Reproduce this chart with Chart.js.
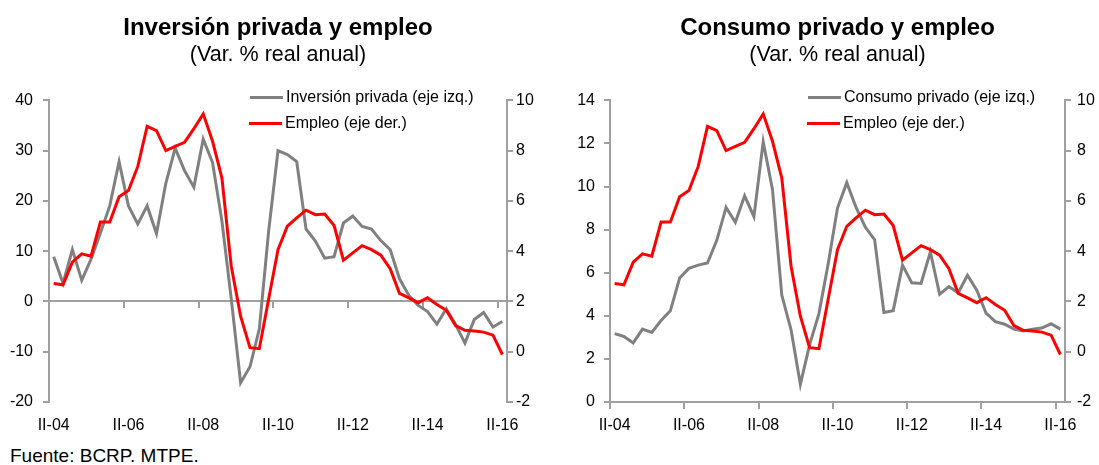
<!DOCTYPE html>
<html><head><meta charset="utf-8">
<script src="https://cdn.jsdelivr.net/npm/chart.js@4.4.1/dist/chart.umd.min.js"></script>
<style>
body{margin:0;background:#fff;width:1099px;height:465px;position:relative;overflow:hidden;font-family:'Liberation Sans',Arial,sans-serif;color:#000;}
canvas{position:absolute;top:0;}
#c1{left:0}
#c2{left:550px}
.leg{position:absolute;font-size:16px;white-space:nowrap;line-height:18px;height:18px;}
.leg .l{position:absolute;left:0;top:7.5px;width:33px;height:3px;}
.leg .t{position:absolute;left:36px;top:0;}
#src{position:absolute;left:10px;top:446px;font-size:19px;line-height:19px;white-space:nowrap;}
</style></head><body>
<canvas id="c1" width="550" height="440"></canvas>
<canvas id="c2" width="549" height="440"></canvas>

<div class="leg" style="left:250px;top:88px"><span class="l" style="background:#808080"></span><span class="t">Inversión privada (eje izq.)</span></div>
<div class="leg" style="left:249px;top:114px"><span class="l" style="background:#ff0000"></span><span class="t">Empleo (eje der.)</span></div>
<div class="leg" style="left:808px;top:88px"><span class="l" style="background:#808080"></span><span class="t">Consumo privado (eje izq.)</span></div>
<div class="leg" style="left:807px;top:114px"><span class="l" style="background:#ff0000"></span><span class="t">Empleo (eje der.)</span></div>
<div id="src">Fuente: BCRP. MTPE.</div>

<script>
// Quarterly categories II-04 ... II-16
const quarters = [
  "II-04","III-04","IV-04",
  "I-05","II-05","III-05","IV-05",
  "I-06","II-06","III-06","IV-06",
  "I-07","II-07","III-07","IV-07",
  "I-08","II-08","III-08","IV-08",
  "I-09","II-09","III-09","IV-09",
  "I-10","II-10","III-10","IV-10",
  "I-11","II-11","III-11","IV-11",
  "I-12","II-12","III-12","IV-12",
  "I-13","II-13","III-13","IV-13",
  "I-14","II-14","III-14","IV-14",
  "I-15","II-15","III-15","IV-15",
  "I-16","II-16"
];

// Employment (right axis), % change
const empleo = [2.71, 2.66, 3.56, 3.89, 3.80, 5.16, 5.16, 6.16, 6.41, 7.37,
  8.96, 8.79, 8.00, 8.17, 8.33, 8.87, 9.46, 8.37, 6.91, 3.40,
  1.41, 0.16, 0.12, 2.10, 4.06, 4.99, 5.32, 5.63, 5.45, 5.48,
  5.02, 3.64, 3.93, 4.22, 4.06, 3.84, 3.30, 2.32, 2.14, 1.95,
  2.15, 1.88, 1.65, 1.04, 0.85, 0.82, 0.78, 0.66, -0.11];

// Private investment (left axis, left chart)
const inversion = [8.9, 3.6, 10.3, 4.2, 8.4, 13.6, 19.0, 27.8, 19.0, 15.4,
  19.0, 13.5, 23.5, 30.5, 26.0, 22.7, 32.3, 27.6, 16.0, 0.5,
  -16.2, -13.0, -5.5, 14.0, 30.0, 29.2, 27.8, 14.4, 12.0, 8.6,
  8.9, 15.6, 17.0, 14.9, 14.4, 12.1, 10.3, 4.5, 1.2, -0.8,
  -2.0, -4.5, -1.5, -4.6, -8.3, -3.6, -2.2, -5.1, -4.0];

// Private consumption (left axis, right chart)
const consumo = [3.17, 3.04, 2.74, 3.38, 3.23, 3.78, 4.23, 5.75, 6.2, 6.35,
  6.45, 7.5, 9.03, 8.34, 9.57, 8.6, 12.07, 9.85, 4.96, 3.35,
  0.82, 2.66, 4.1, 6.42, 9.0, 10.18, 9.03, 8.11, 7.53, 4.15,
  4.24, 6.35, 5.53, 5.5, 6.96, 5.0, 5.35, 5.07, 5.88, 5.19,
  4.12, 3.73, 3.61, 3.38, 3.3, 3.38, 3.43, 3.63, 3.38];

const invTicks = {min: -20, max: 40, step: 10};
const conTicks = {min: 0, max: 14, step: 2};
const empTicks = {min: -2, max: 10, step: 2};

Chart.defaults.font.family = "'Liberation Sans', Arial, sans-serif";
Chart.defaults.font.size = 16;
Chart.defaults.color = '#000';

const AXIS = '#a0a0a0';

function makeChart(id, cfg) {
  return new Chart(document.getElementById(id), {
    type: 'line',
    data: {
      labels: quarters,
      datasets: [
        {label: cfg.leftName, data: cfg.leftData, yAxisID: 'y', xAxisID: 'x',
         borderColor: '#808080', borderWidth: 3, pointRadius: 0, tension: 0, order: 1, fill: false},
        {label: 'Empleo (eje der.)', data: empleo, yAxisID: 'y1', xAxisID: 'x',
         borderColor: '#ff0000', borderWidth: 3, pointRadius: 0, tension: 0, order: 0, fill: false}
      ]
    },
    options: {
      responsive: false, animation: false, devicePixelRatio: 1,
      layout: {padding: 0},
      plugins: {
        legend: {display: false}, tooltip: {enabled: false},
        title: {display: true, text: cfg.title, fullSize: false, color: '#000',
                font: {size: 24, weight: 'bold'}, padding: {top: 13.5, bottom: 0}},
        subtitle: {display: true, text: '(Var. % real anual)', fullSize: false, color: '#000',
                font: {size: 21.5, weight: 'normal'}, padding: {top: 0, bottom: 32.2}}
      },
      scales: {
        x: {type: 'category', position: 'bottom', offset: true,
            grid: {display: false, offset: true}, border: {display: false},
            ticks: {autoSkip: false, maxRotation: 0, padding: 6,
                    callback: (v, i) => (i % 8 === 0 ? quarters[i] : '')},
            afterFit: s => { s.height = 38; }},
        x0: {type: 'category', position: {y: 0}, offset: true,
            grid: {offset: true, drawOnChartArea: false, drawTicks: true, tickLength: 6, lineWidth: 2,
                   color: c => (c.index !== undefined && c.index % 8 === 0 ? AXIS : 'rgba(0,0,0,0)')},
            border: {display: true, color: AXIS, width: 2},
            ticks: {display: false}},
        y: {position: 'left', min: cfg.yt.min, max: cfg.yt.max,
            ticks: {stepSize: cfg.yt.step, padding: cfg.lpad},
            grid: {drawOnChartArea: false, tickLength: 6, color: AXIS, lineWidth: 2},
            border: {display: true, color: AXIS, width: 2},
            afterFit: s => { s.width = cfg.lw; }},
        y1: {position: 'right', min: empTicks.min, max: empTicks.max,
            ticks: {stepSize: empTicks.step, padding: cfg.rpad},
            grid: {drawOnChartArea: false, tickLength: 6, color: AXIS, lineWidth: 2},
            border: {display: true, color: AXIS, width: 2},
            afterFit: s => { s.width = cfg.rw; }}
      }
    }
  });
}

makeChart('c1', {title: 'Inversión privada y empleo', leftName: 'Inversión privada (eje izq.)',
  leftData: inversion, yt: invTicks, lw: 49, rw: 43, lpad: 10, rpad: 3});
makeChart('c2', {title: 'Consumo privado y empleo', leftName: 'Consumo privado (eje izq.)',
  leftData: consumo, yt: conTicks, lw: 60, rw: 34, lpad: 9, rpad: 6});
</script>
</body></html>
